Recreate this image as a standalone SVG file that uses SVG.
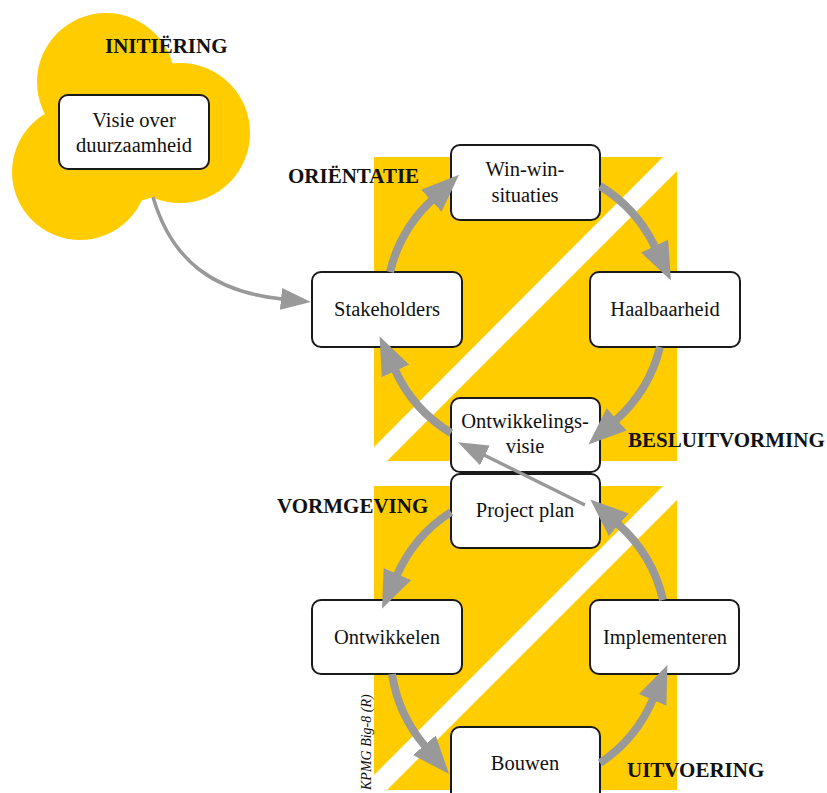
<svg xmlns="http://www.w3.org/2000/svg" width="827" height="793" viewBox="0 0 827 793">
  <defs>
    <style>
      .yellow { fill: #FFCC00; }
      .frame { fill: #ffffff; stroke: #1a1a1a; stroke-width: 2; }
      .lbl { font-family: "Liberation Serif", "Times New Roman", serif; font-size: 20.5px; fill: #111111; text-anchor: middle; }
      .phase { font-family: "Liberation Serif", "Times New Roman", serif; font-size: 21px; font-weight: bold; fill: #111111; }
      .thick { fill: none; stroke: #999999; stroke-width: 8; marker-end: url(#headThick); }
      .thin { fill: none; stroke: #999999; stroke-width: 3.5; marker-end: url(#headThin); }
      .credit { font-family: "Liberation Serif", "Times New Roman", serif; font-size: 14px; font-style: italic; fill: #111111; }
    </style>
    <marker id="headThick" markerUnits="userSpaceOnUse" markerWidth="38" markerHeight="30" viewBox="0 0 38 30" refX="1" refY="15" orient="auto">
      <path d="M0,0 L38,15 L0,30 z" fill="#999999"/>
    </marker>
    <marker id="headThin" markerUnits="userSpaceOnUse" markerWidth="30" markerHeight="22" viewBox="0 0 30 22" refX="1" refY="11" orient="auto">
      <path d="M0,0 L30,11 L0,22 z" fill="#999999"/>
    </marker>
  </defs>

  <rect width="827" height="793" fill="#ffffff"/>

  <!-- yellow squares, split by a white diagonal band -->
  <g id="backgrounds">
    <polygon class="yellow" points="374,157 663,157 374,447"/>
    <polygon class="yellow" points="677,171 677,461 387,461"/>
    <polygon class="yellow" points="374,486 663,486 374,775"/>
    <polygon class="yellow" points="677,500 677,790 387,790"/>
  </g>

  <!-- cloud behind the initiation box -->
  <g id="cloud" class="yellow">
    <circle cx="106" cy="82" r="69"/>
    <circle cx="180" cy="133" r="70"/>
    <circle cx="80" cy="172" r="68"/>
    <circle cx="128" cy="140" r="62"/>
  </g>

  <g id="visie-over-duurzaamheid">
    <rect class="frame" x="59" y="95" width="150" height="74" rx="9"/>
    <text class="lbl" x="134" y="127">Visie over</text>
    <text class="lbl" x="134" y="152">duurzaamheid</text>
  </g>

  <g id="win-win-situaties">
    <rect class="frame" x="451" y="145" width="149" height="75" rx="9"/>
    <text class="lbl" x="525" y="176">Win-win-</text>
    <text class="lbl" x="525" y="202">situaties</text>
  </g>

  <g id="stakeholders">
    <rect class="frame" x="312" y="272" width="150" height="75" rx="9"/>
    <text class="lbl" x="387" y="316">Stakeholders</text>
  </g>

  <g id="haalbaarheid">
    <rect class="frame" x="590" y="272" width="150" height="75" rx="9"/>
    <text class="lbl" x="665" y="316">Haalbaarheid</text>
  </g>

  <g id="ontwikkelingsvisie">
    <rect class="frame" x="451" y="398" width="149" height="74" rx="9"/>
    <text class="lbl" x="525" y="428">Ontwikkelings-</text>
    <text class="lbl" x="525" y="453">visie</text>
  </g>

  <g id="project-plan">
    <rect class="frame" x="451" y="474" width="149" height="74" rx="9"/>
    <text class="lbl" x="525" y="517">Project plan</text>
  </g>

  <g id="ontwikkelen">
    <rect class="frame" x="312" y="600" width="150" height="74" rx="9"/>
    <text class="lbl" x="387" y="644">Ontwikkelen</text>
  </g>

  <g id="implementeren">
    <rect class="frame" x="590" y="600" width="149" height="74" rx="9"/>
    <text class="lbl" x="665" y="644">Implementeren</text>
  </g>

  <g id="bouwen">
    <rect class="frame" x="451" y="727" width="149" height="80" rx="9"/>
    <text class="lbl" x="525" y="770">Bouwen</text>
  </g>

  <!-- connectors -->
  <g id="connectors">
    <!-- upper cycle, clockwise -->
    <path class="thick" d="M390,272 A144,144 0 0,1 432,200"/>
    <path class="thick" d="M600,186 A144,144 0 0,1 655,247"/>
    <path class="thick" d="M660,347 A144,144 0 0,1 616,420"/>
    <path class="thick" d="M451,433 A144,144 0 0,1 395,370"/>
    <!-- lower cycle, counter-clockwise -->
    <path class="thick" d="M451,512 A144,144 0 0,0 397,575"/>
    <path class="thick" d="M392,674 A144,144 0 0,0 425,746"/>
    <path class="thick" d="M600,763 A144,144 0 0,0 653,699"/>
    <path class="thick" d="M663,600 A144,144 0 0,0 618,524"/>
    <!-- links between cloud and cycles -->
    <path class="thin" d="M153,197 C172,262 215,292 282,299"/>
    <path class="thin" d="M585,505 L484,455"/>
  </g>

  <g id="phases">
    <text class="phase" x="105" y="53">INITIËRING</text>
    <text class="phase" x="288" y="183">ORIËNTATIE</text>
    <text class="phase" x="628" y="447">BESLUITVORMING</text>
    <text class="phase" x="277" y="513">VORMGEVING</text>
    <text class="phase" x="627" y="777">UITVOERING</text>
  </g>

  <text class="credit" transform="translate(371,790) rotate(-90)">KPMG Big-8 (R)</text>
</svg>
